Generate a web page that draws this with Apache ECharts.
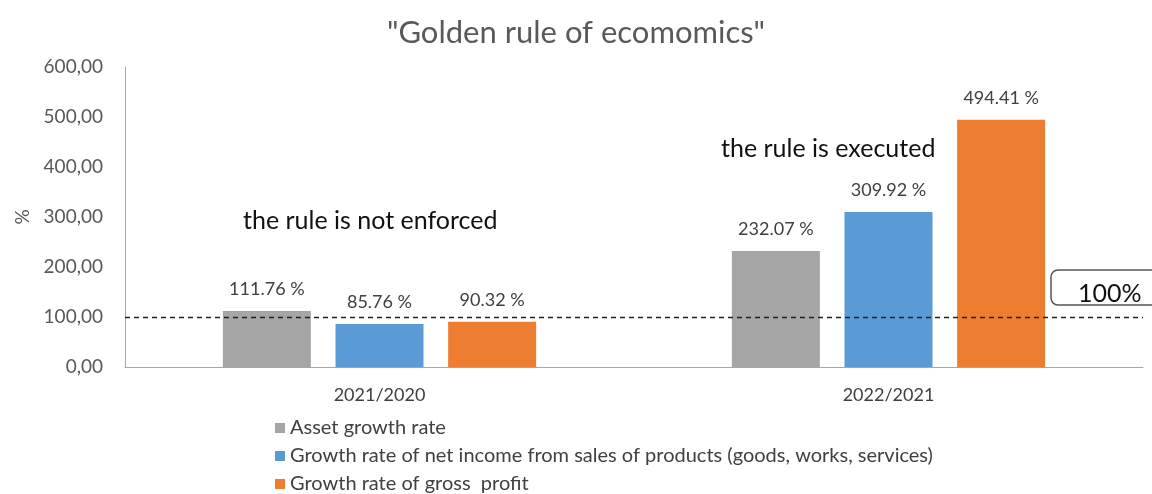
<!DOCTYPE html>
<html><head><meta charset="utf-8">
<script src="https://cdn.jsdelivr.net/npm/echarts@6/dist/echarts.min.js"></script>
<style>html,body{margin:0;padding:0;background:#fff}#c{width:1152px;height:494px}</style>
</head><body><div id="c"></div>
<script>
const categories = ['2021/2020', '2022/2021'];
const seriesNames = ['Asset growth rate', 'Growth rate of net income from sales of products (goods, works, services)', 'Growth rate of gross  profit'];
const assetGrowth = [111.76, 232.07];
const netIncomeGrowth = [85.76, 309.92];
const grossProfitGrowth = [90.32, 494.41];
const yTicks = [0, 100, 200, 300, 400, 500, 600];
const thresholdValue = 100;
const colors = ['#a5a5a5', '#5b9bd5', '#ed7d31'];
const font = 'Lato, "Open Sans", sans-serif';

const chart = echarts.init(document.getElementById('c'));
function mk(name, data, color, withLine) {
  const s = {
    name, type: 'bar', data, barWidth: 88, barGap: '28%',
    itemStyle: { color },
    label: { show: true, position: 'top', distance: 13, color: '#404040', fontSize: 18, fontFamily: font,
      formatter: p => p.value.toFixed(2) + ' %' }
  };
  if (withLine) {
    s.markLine = { silent: true, symbol: 'none', label: { show: false },
      lineStyle: { color: '#222', type: [5, 4], width: 1.3 },
      data: [{ yAxis: thresholdValue }] };
  }
  return s;
}
chart.setOption({
  animation: false,
  title: { text: '"Golden rule of ecomomics"', left: 'center', top: 12,
    textStyle: { color: '#595959', fontSize: 31, fontWeight: 'normal', fontFamily: font } },
  grid: { left: 125, right: 9, top: 67, bottom: 127 },
  legend: { orient: 'vertical', left: 270, top: 413, height: 120, itemWidth: 10, itemHeight: 10, itemGap: 8, icon: 'rect',
    textStyle: { color: '#404040', fontSize: 20, fontFamily: font }, selectedMode: false },
  xAxis: { type: 'category', data: categories,
    axisLine: { lineStyle: { color: '#a6a6a6' } }, axisTick: { show: false },
    axisLabel: { color: '#404040', fontSize: 18, margin: 19, fontFamily: font } },
  yAxis: { type: 'value', min: yTicks[0], max: yTicks[yTicks.length - 1], interval: 100,
    name: '%', nameLocation: 'middle', nameGap: 92, nameRotate: 90,
    nameTextStyle: { color: '#595959', fontSize: 19, fontFamily: font },
    axisLine: { show: true, lineStyle: { color: '#a6a6a6' } }, axisTick: { show: false }, splitLine: { show: false },
    axisLabel: { color: '#595959', fontSize: 19, margin: 22, fontFamily: font,
      formatter: v => v.toFixed(2).replace('.', ',') } },
  series: [
    mk(seriesNames[0], assetGrowth, colors[0], true),
    mk(seriesNames[1], netIncomeGrowth, colors[1], false),
    mk(seriesNames[2], grossProfitGrowth, colors[2], false)
  ],
  graphic: [
    { type: 'text', left: 243, top: 208, style: { text: 'the rule is not enforced', fill: '#111', font: '25px ' + font } },
    { type: 'text', left: 721, top: 136, style: { text: 'the rule is executed', fill: '#111', font: '25px ' + font } },
    { type: 'rect', shape: { x: 1051, y: 270, width: 120, height: 35, r: 7 }, style: { fill: '#fff', stroke: '#555', lineWidth: 1.5 } },
    { type: 'text', left: 1078, top: 281, style: { text: '100%', fill: '#111', font: '25px ' + font } }
  ]
});
</script></body></html>
